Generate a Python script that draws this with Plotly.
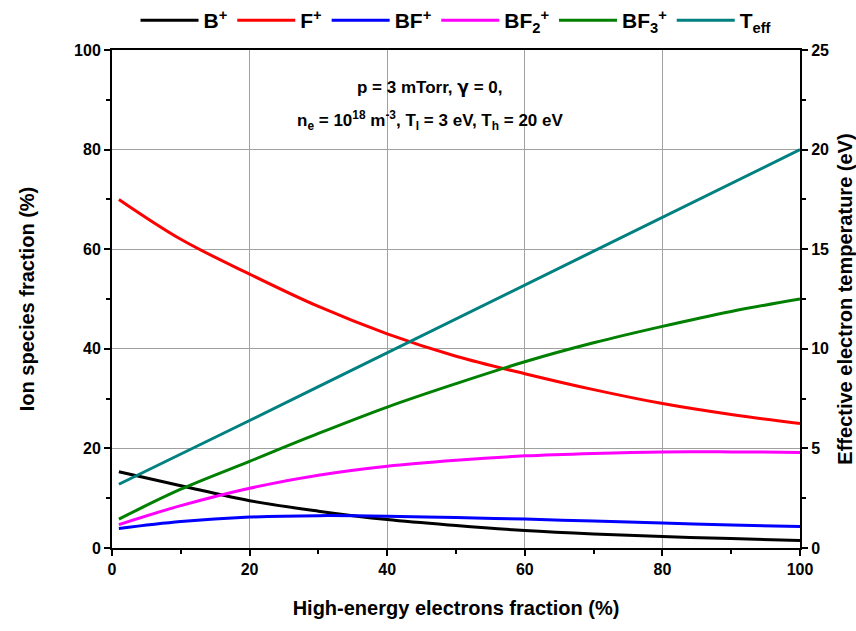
import plotly.graph_objects as go

x = [1, 10, 20, 30, 40, 50, 60, 70, 80, 90, 100]
b_plus = [15.3, 12.5, 9.5, 7.4, 5.7, 4.5, 3.5, 2.8, 2.3, 1.9, 1.5]
f_plus = [70.0, 62.0, 55.0, 48.5, 43.0, 38.5, 35.0, 31.8, 29.0, 26.8, 25.0]
bf_plus = [3.9, 5.3, 6.2, 6.5, 6.4, 6.1, 5.8, 5.4, 5.0, 4.6, 4.3]
bf2_plus = [4.7, 8.5, 12.0, 14.6, 16.4, 17.6, 18.5, 19.0, 19.3, 19.3, 19.2]
bf3_plus = [5.8, 11.8, 17.4, 23.0, 28.3, 33.0, 37.4, 41.2, 44.5, 47.5, 50.0]
t_eff = [3.2, 4.7, 6.4, 8.1, 9.8, 11.5, 13.2, 14.9, 16.6, 18.3, 20.0]

series = [
    ("B<sup>+</sup>", b_plus, "#000000"),
    ("F<sup>+</sup>", f_plus, "#ff0000"),
    ("BF<sup>+</sup>", bf_plus, "#0000ff"),
    ("BF<sub>2</sub><sup>+</sup>", bf2_plus, "#ff00ff"),
    ("BF<sub>3</sub><sup>+</sup>", bf3_plus, "#008000"),
]

fig = go.Figure()
for name, ys, col in series:
    fig.add_trace(go.Scatter(x=x, y=ys, mode="lines", name=name,
                             line=dict(color=col, width=3, shape="spline")))
fig.add_trace(go.Scatter(x=x, y=t_eff, mode="lines", name="T<sub>eff</sub>",
                         line=dict(color="#008080", width=3), yaxis="y2"))

font = dict(family="Liberation Sans, Arial", size=16, color="black")
tickfont = dict(family="Liberation Sans, Arial", size=16, color="black", weight="bold")
axis_common = dict(showline=True, linecolor="black", linewidth=2, ticks="outside",
                   ticklen=6, tickwidth=2, tickcolor="black", zeroline=False,
                   automargin=False, tickfont=tickfont)

fig.update_layout(
    width=856, height=631,
    margin=dict(l=112, r=56, t=50, b=83, autoexpand=False),
    paper_bgcolor="white", plot_bgcolor="white",
    font=font,
    showlegend=True,
    legend=dict(orientation="h", x=0.5, xanchor="center", yref="container", y=1.0, yanchor="top",
                font=dict(size=21, weight="bold"), itemwidth=58, tracegroupgap=0,
                bgcolor="rgba(0,0,0,0)"),
    xaxis=dict(range=[0, 100], dtick=20, showgrid=True, gridcolor="#a0a0a0", gridwidth=1,
               mirror=True,
               minor=dict(dtick=10, ticks="outside", ticklen=4, tickwidth=2, tickcolor="black", showgrid=False),
               title=dict(text="<b>High-energy electrons fraction (%)</b>",
                          font=dict(size=20), standoff=24),
               **axis_common),
    yaxis=dict(range=[0, 100], dtick=20, showgrid=True, gridcolor="#a0a0a0", gridwidth=1,
               minor=dict(dtick=10, ticks="outside", ticklen=4, tickwidth=2, tickcolor="black", showgrid=False),
               title=dict(text="<b>Ion species fraction (%)</b>", font=dict(size=20), standoff=34),
               **axis_common),
    yaxis2=dict(range=[0, 25], dtick=5, overlaying="y", side="right", showgrid=False,
                minor=dict(dtick=2.5, ticks="outside", ticklen=4, tickwidth=2, tickcolor="black"),
                title=dict(text="<b>Effective electron temperature (eV)</b>", font=dict(size=20), standoff=18),
                **axis_common),
)

fig.add_annotation(x=0.462, y=0.95, xref="paper", yref="paper", showarrow=False,
                   text="<b>p = 3 mTorr, <span style=\"font-family:DejaVu Sans\">γ</span> = 0,</b>",
                   font=dict(size=17))
fig.add_annotation(x=0.462, y=0.888, xref="paper", yref="paper", showarrow=False,
                   text="<b>n<sub>e</sub> = 10<sup>18</sup> m<sup>-3</sup>, T<sub>l</sub> = 3 eV, T<sub>h</sub> = 20 eV</b>",
                   font=dict(size=17))

fig.write_html("out.html")
